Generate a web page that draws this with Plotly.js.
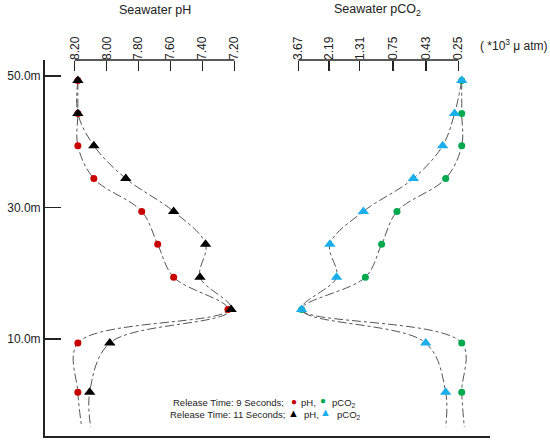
<!DOCTYPE html>
<html>
<head>
<meta charset="utf-8">
<script src="https://cdn.plot.ly/plotly-3.0.1.min.js"></script>
<style>html,body{margin:0;padding:0;background:#fff;}#chart{width:550px;height:442px;}</style>
</head>
<body>
<div id="chart"></div>
<script>
// Depths (m) of measurement points
const depths = [49.3, 44.3, 39.4, 34.4, 29.4, 24.4, 19.4, 14.5, 9.4, 1.9];
const lineEndDepth = -3.4;

// Seawater pH
const ph9s  = [8.18, 8.18, 8.18, 8.08, 7.78, 7.68, 7.58, 7.24, 8.18, 8.18];
const ph9sEnd = 8.156;
const ph11s = [8.18, 8.18, 8.08, 7.88, 7.58, 7.38, 7.415, 7.22, 7.98, 8.106];
const ph11sEnd = 8.10;

// Seawater pCO2 (*10^3 uatm)
const pco9s  = [0.236, 0.236, 0.236, 0.309, 0.70, 0.906, 1.19, 3.47, 0.236, 0.236];
const pco9sEnd = 0.226;
const pco11s = [0.236, 0.266, 0.325, 0.532, 1.23, 2.16, 1.93, 3.47, 0.432, 0.309];
const pco11sEnd = 0.309;

// Tick labels
const phTicks = [8.2, 8.0, 7.8, 7.6, 7.4, 7.2];
const phTickText = ['8.20', '8.00', '7.80', '7.60', '7.40', '7.20'];
const pcoTicks = [3.67, 2.19, 1.31, 0.75, 0.43, 0.25];
const pcoTickText = ['3.67', '2.19', '1.31', '0.75', '0.43', '0.25'];
const depthTicks = [10, 30, 50];
const depthTickText = ['10.0m', '30.0m', '50.0m'];

const FONT = 'Liberation Sans, Arial, sans-serif';
const lineStyle = {color: '#555', width: 1, dash: 'dashdot', shape: 'spline', smoothing: 1};

function lineTrace(vals, endVal, xa) {
  return {x: vals.concat([endVal]), y: depths.concat([lineEndDepth]), xaxis: xa, yaxis: 'y',
          mode: 'lines', line: lineStyle, hoverinfo: 'skip', showlegend: false};
}
function markTrace(vals, xa, symbol, color, size) {
  return {x: vals, y: depths, xaxis: xa, yaxis: 'y', mode: 'markers', cliponaxis: false,
          marker: {symbol: symbol, color: color, size: size, line: {width: 0}}, showlegend: false};
}

const RED = '#c80000', BLACK = '#000000', GREEN = '#00a84f', BLUE = '#1aaeea';

const data = [
  lineTrace(ph9s, ph9sEnd, 'x'),
  lineTrace(ph11s, ph11sEnd, 'x'),
  lineTrace(pco9s, pco9sEnd, 'x2'),
  lineTrace(pco11s, pco11sEnd, 'x2'),
  markTrace(ph9s, 'x', 'circle', RED, 7),
  markTrace(ph11s, 'x', 'triangle-up', BLACK, 10),
  markTrace(pco9s, 'x2', 'circle', GREEN, 7),
  markTrace(pco11s, 'x2', 'triangle-up', BLUE, 10)
];

const axCommon = {
  side: 'top', anchor: 'free', position: 1, showline: false, showgrid: false, zeroline: false,
  ticks: 'inside', ticklen: 10, tickwidth: 1.5, tickcolor: '#222', tickangle: -90,
  tickfont: {family: FONT, size: 12, color: '#222'}
};

const layout = {
  width: 550, height: 442,
  margin: {l: 43, r: 60, t: 60, b: 5},
  paper_bgcolor: '#fff', plot_bgcolor: '#fff',
  font: {family: FONT, color: '#222'},
  showlegend: false,
  xaxis: Object.assign({}, axCommon, {domain: [0.05302, 0.44586], range: [8.25, 7.15],
          tickvals: phTicks, ticktext: phTickText}),
  xaxis2: Object.assign({}, axCommon, {domain: [0.55257, 0.95526], type: 'log',
          range: [0.6252, -0.6874], tickvals: pcoTicks, ticktext: pcoTickText}),
  yaxis: {domain: [0, 1], range: [-4.9, 52.43], anchor: 'free', position: 0,
          showline: true, linewidth: 1.5, linecolor: '#222', showgrid: false, zeroline: false,
          ticks: 'inside', ticklen: 16, tickwidth: 1.5, tickcolor: '#222',
          tickvals: depthTicks, ticktext: depthTickText,
          tickfont: {family: FONT, size: 12, color: '#222'}},
  shapes: [
    {type: 'line', xref: 'paper', yref: 'paper', x0: 0.0709, x1: 0.4280, y0: 1, y1: 1,
     line: {color: '#222', width: 1.5}},
    {type: 'line', xref: 'paper', yref: 'paper', x0: 0.5711, x1: 0.9291, y0: 1, y1: 1,
     line: {color: '#222', width: 1.5}},
    {type: 'line', xref: 'paper', yref: 'paper', x0: 0, x1: 1, y0: 0, y1: 0,
     line: {color: '#222', width: 2}}
  ],
  annotations: [
    {xref: 'paper', yref: 'paper', x: 0.2506, y: 1.1326, text: 'Seawater pH', showarrow: false,
     xanchor: 'center', yanchor: 'middle', font: {family: FONT, size: 12.5, color: '#222'}},
    {xref: 'paper', yref: 'paper', x: 0.7494, y: 1.1326, text: 'Seawater pCO<sub>2</sub>', showarrow: false,
     xanchor: 'center', yanchor: 'middle', font: {family: FONT, size: 12.5, color: '#222'}},
    {xref: 'paper', yref: 'paper', x: 0.9732, y: 1.0398, text: '( *10<sup>3</sup> μ atm)', showarrow: false,
     xanchor: 'left', yanchor: 'middle', font: {family: FONT, size: 12, color: '#222'}},

    {xref: 'paper', yref: 'paper', x: 0.5436, y: 0.091, text: 'Release Time: 9 Seconds;', showarrow: false,
     xanchor: 'right', yanchor: 'middle', font: {family: FONT, size: 9.5, color: '#222'}},
    {xref: 'paper', yref: 'paper', x: 0.5615, y: 0.095, text: '●', showarrow: false,
     xanchor: 'center', yanchor: 'middle', font: {family: FONT, size: 10, color: RED}},
    {xref: 'paper', yref: 'paper', x: 0.5727, y: 0.091, text: 'pH,', showarrow: false,
     xanchor: 'left', yanchor: 'middle', font: {family: FONT, size: 9.5, color: '#222'}},
    {xref: 'paper', yref: 'paper', x: 0.627, y: 0.097, text: '●', showarrow: false,
     xanchor: 'center', yanchor: 'middle', font: {family: FONT, size: 10, color: GREEN}},
    {xref: 'paper', yref: 'paper', x: 0.642, y: 0.091, text: 'pCO<sub>2</sub>', showarrow: false,
     xanchor: 'left', yanchor: 'middle', font: {family: FONT, size: 9.5, color: '#222'}},

    {xref: 'paper', yref: 'paper', x: 0.5459, y: 0.0584, text: 'Release Time: 11 Seconds;', showarrow: false,
     xanchor: 'right', yanchor: 'middle', font: {family: FONT, size: 9.5, color: '#222'}},
    {xref: 'paper', yref: 'paper', x: 0.560, y: 0.064, text: '▲', showarrow: false,
     xanchor: 'center', yanchor: 'middle', font: {family: FONT, size: 11, color: BLACK}},
    {xref: 'paper', yref: 'paper', x: 0.5785, y: 0.0584, text: 'pH,', showarrow: false,
     xanchor: 'left', yanchor: 'middle', font: {family: FONT, size: 9.5, color: '#222'}},
    {xref: 'paper', yref: 'paper', x: 0.6325, y: 0.067, text: '▲', showarrow: false,
     xanchor: 'center', yanchor: 'middle', font: {family: FONT, size: 11, color: BLUE}},
    {xref: 'paper', yref: 'paper', x: 0.6532, y: 0.0584, text: 'pCO<sub>2</sub>', showarrow: false,
     xanchor: 'left', yanchor: 'middle', font: {family: FONT, size: 9.5, color: '#222'}}
  ]
};

Plotly.newPlot('chart', data, layout, {staticPlot: true, displayModeBar: false});
</script>
</body>
</html>
